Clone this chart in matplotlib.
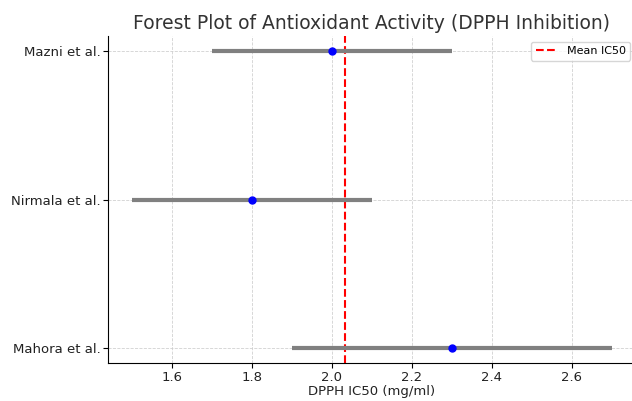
import matplotlib
matplotlib.use("Agg")
import matplotlib.pyplot as plt
import numpy as np

studies = ["Mazni et al.", "Nirmala et al.", "Mahora et al."]
ic50 = [2.0, 1.8, 2.3]
ci_low = [1.7, 1.5, 1.9]
ci_high = [2.3, 2.1, 2.7]

mean_ic50 = np.mean(ic50)
ypos = np.arange(len(studies))[::-1]
err = [np.array(ic50) - np.array(ci_low), np.array(ci_high) - np.array(ic50)]

fig = plt.figure(figsize=(6.32, 4.01), dpi=100)
ax = fig.add_axes([0.171, 0.094, 0.835, 0.816])
ax.errorbar(ic50, ypos, xerr=err, fmt='o', color='blue', ecolor='gray',
            elinewidth=3, capsize=0, markersize=5, zorder=3)
ax.axvline(mean_ic50, color='red', linestyle='--', linewidth=1.5, label='Mean IC50')
ax.set_yticks(ypos)
ax.set_yticklabels(studies, fontsize=9.5, color='#222222')
ax.tick_params(axis='x', labelsize=9.5, pad=2, labelcolor='#222222')
ax.tick_params(axis='y', pad=2)
ax.set_xticks([1.6, 1.8, 2.0, 2.2, 2.4, 2.6])
ax.set_xlabel("DPPH IC50 (mg/ml)", fontsize=9.5, labelpad=1, color='#222222')
ax.set_title("Forest Plot of Antioxidant Activity (DPPH Inhibition)", fontsize=13.5, color='#333333', pad=5)
ax.grid(True, linestyle='--', linewidth=0.6, color='#cccccc', alpha=0.9)
ax.set_axisbelow(True)
ax.spines['top'].set_visible(False)
ax.spines['right'].set_visible(False)
ax.legend(loc='upper right', fontsize=8)
fig.savefig("out.png", dpi=100)
